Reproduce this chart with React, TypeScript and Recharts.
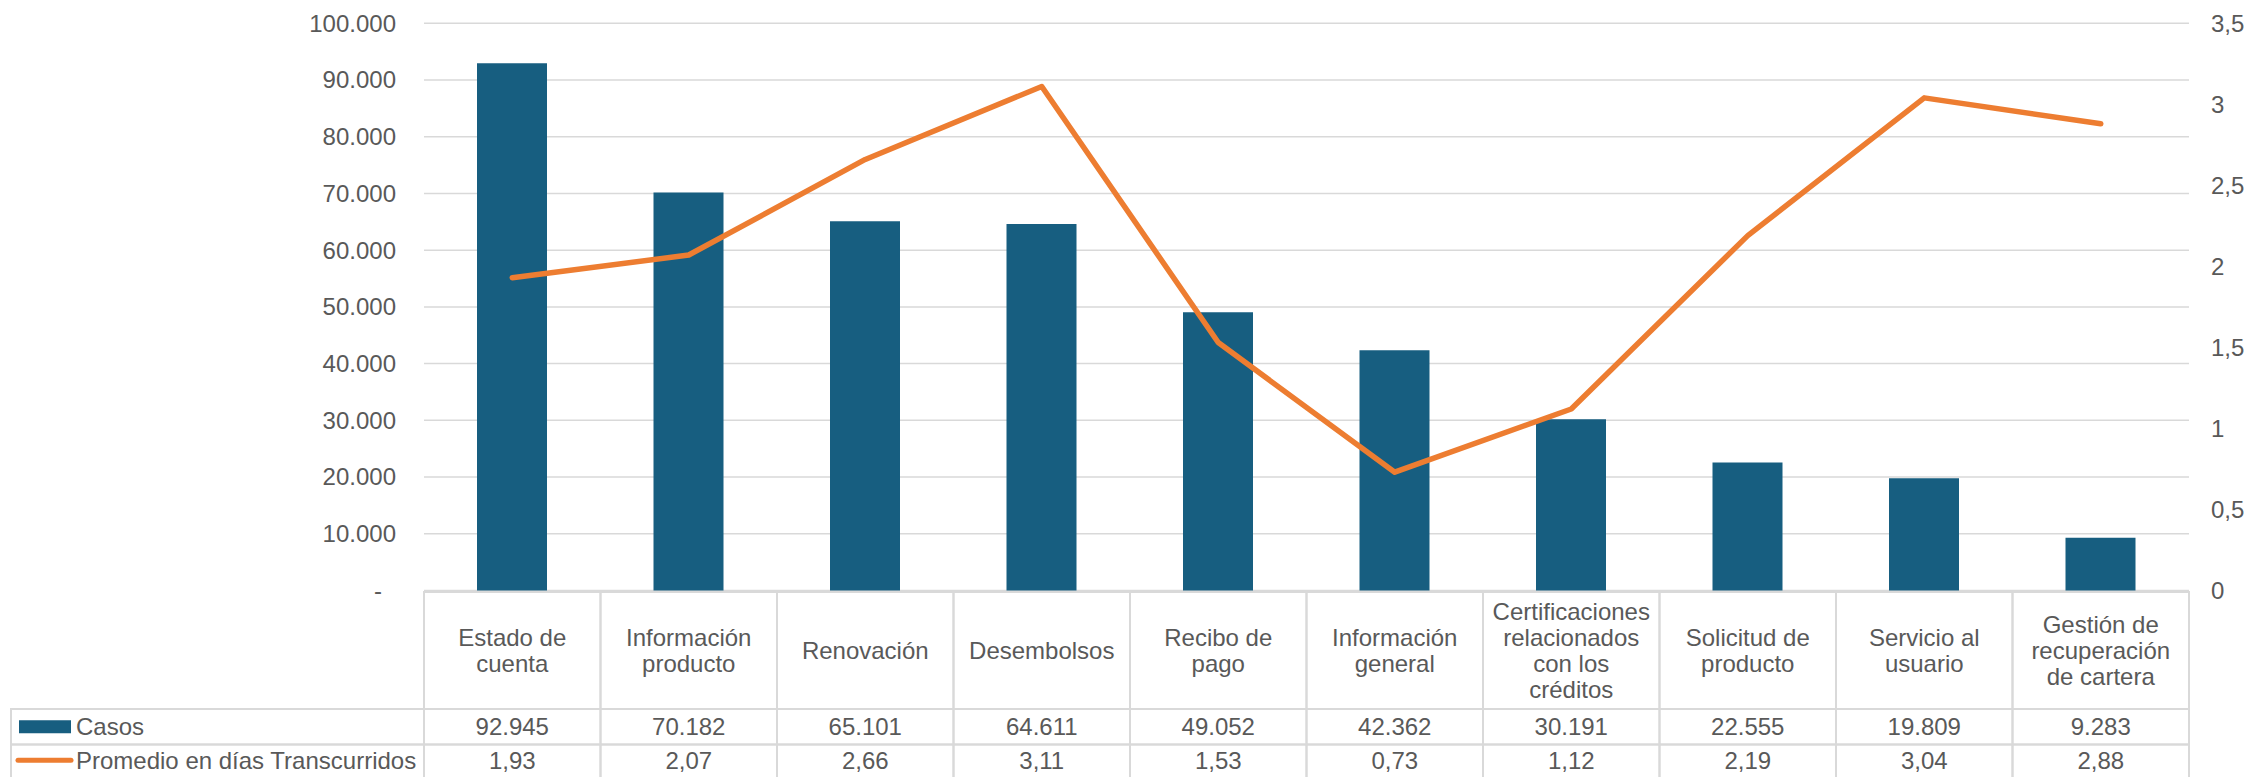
import React from 'react';
import { ComposedChart, Bar, Line, XAxis, YAxis, CartesianGrid } from 'recharts';

// Categorías (saltos de línea = cortes del encabezado de la tabla)
const categories = [
    'Estado de\ncuenta',
    'Información\nproducto',
    'Renovación',
    'Desembolsos',
    'Recibo de\npago',
    'Información\ngeneral',
    'Certificaciones\nrelacionados\ncon los\ncréditos',
    'Solicitud de\nproducto',
    'Servicio al\nusuario',
    'Gestión de\nrecuperación\nde cartera',
];
const casos = [92945, 70182, 65101, 64611, 49052, 42362, 30191, 22555, 19809, 9283];
const promedioDias = [1.93, 2.07, 2.66, 3.11, 1.53, 0.73, 1.12, 2.19, 3.04, 2.88];
const casosTicks = [0, 10000, 20000, 30000, 40000, 50000, 60000, 70000, 80000, 90000, 100000];
const diasTicks = [0, 0.5, 1, 1.5, 2, 2.5, 3, 3.5];

const BAR_COLOR = '#175E80';
const LINE_COLOR = '#ED7D31';
const TEXT_COLOR = '#595959';
const GRID_COLOR = '#D9D9D9';
const FONT = '"Liberation Sans", Arial, sans-serif';

const WIDTH = 2249;
const HEIGHT = 777;
const PLOT_LEFT = 424;
const PLOT_RIGHT = 2189;
const TABLE_H = 186.5;
const CELL_W = (PLOT_RIGHT - PLOT_LEFT) / categories.length;

const data = categories.map((categoria, i) => ({
    categoria,
    casos: casos[i],
    promedio: promedioDias[i],
}));

const miles = (v: number) => String(v).replace(/\B(?=(\d{3})+(?!\d))/g, '.');
const decimal = (v: number, d?: number) =>
    (d === undefined ? String(v) : v.toFixed(d)).replace('.', ',');

const CasosTick = ({ x, y, payload }: any) => (
    <text
        x={payload.value === 0 ? x - 14 : x}
        y={y}
        dy="0.35em"
        textAnchor="end"
        fill={TEXT_COLOR}
        fontSize={24}
        fontFamily={FONT}
    >
        {payload.value === 0 ? '-' : miles(payload.value)}
    </text>
);

// Cada tick del eje X dibuja su columna de la tabla de datos
const TableTick = ({ x, y, payload }: any) => {
    const i = categories.indexOf(payload.value);
    const left = x - CELL_W / 2;
    const top = y + 1.5;
    const headerBottom = y + 118.5;
    const casosBottom = y + 154;
    const bottom = y + 188;
    const lines: string[] = String(payload.value).split('\n');
    const headerMid = (top + headerBottom) / 2;
    const textProps = {
        textAnchor: 'middle' as const,
        dominantBaseline: 'central' as const,
        fill: TEXT_COLOR,
        fontSize: 24,
        fontFamily: FONT,
    };
    return (
        <g>
            <rect x={left} y={top} width={CELL_W} height={headerBottom - top} fill="none" stroke={GRID_COLOR} strokeWidth={2} />
            <rect x={left} y={headerBottom} width={CELL_W} height={casosBottom - headerBottom} fill="none" stroke={GRID_COLOR} strokeWidth={2} />
            <rect x={left} y={casosBottom} width={CELL_W} height={bottom - casosBottom} fill="none" stroke={GRID_COLOR} strokeWidth={2} />
            {lines.map((line, k) => (
                <text key={k} x={x} y={headerMid + (k - (lines.length - 1) / 2) * 26} {...textProps}>
                    {line}
                </text>
            ))}
            <text x={x} y={(headerBottom + casosBottom) / 2} {...textProps}>
                {miles(casos[i])}
            </text>
            <text x={x} y={(casosBottom + y + 185.5) / 2} {...textProps}>
                {decimal(promedioDias[i], 2)}
            </text>
        </g>
    );
};

// Leyenda a la izquierda de las filas de la tabla
const TableLegend = () => {
    const rowTop = HEIGHT - TABLE_H + 118.5;
    const rowMid = HEIGHT - TABLE_H + 154;
    const rowBottom = HEIGHT - TABLE_H + 185.5;
    const labelProps = {
        dominantBaseline: 'central' as const,
        fill: TEXT_COLOR,
        fontSize: 24,
        fontFamily: FONT,
    };
    return (
        <svg width={PLOT_LEFT + 1} height={HEIGHT} style={{ position: 'absolute', left: 0, top: 0, pointerEvents: 'none' }}>
            <rect x={11} y={rowTop} width={PLOT_LEFT - 11} height={rowMid - rowTop} fill="none" stroke={GRID_COLOR} strokeWidth={2} />
            <rect x={11} y={rowMid} width={PLOT_LEFT - 11} height={rowBottom - rowMid + 3} fill="none" stroke={GRID_COLOR} strokeWidth={2} />
            <rect x={19} y={(rowTop + rowMid) / 2 - 6.5} width={52} height={13} fill={BAR_COLOR} />
            <text x={76} y={(rowTop + rowMid) / 2} {...labelProps}>Casos</text>
            <line x1={18} x2={71} y1={(rowMid + rowBottom) / 2} y2={(rowMid + rowBottom) / 2} stroke={LINE_COLOR} strokeWidth={5} strokeLinecap="round" />
            <text x={76} y={(rowMid + rowBottom) / 2} {...labelProps}>Promedio en días Transcurridos</text>
        </svg>
    );
};

export default function App() {
    return (
        <div style={{ position: 'absolute', left: 0, top: 0, width: WIDTH, height: HEIGHT, overflow: 'hidden', background: '#fff' }}>
            <ComposedChart
                width={WIDTH}
                height={HEIGHT}
                data={data}
                margin={{ top: 23.3, right: 0, left: 0, bottom: 0 }}
            >
                <CartesianGrid yAxisId="casos" vertical={false} stroke={GRID_COLOR} strokeWidth={1.5} />
                <XAxis
                    dataKey="categoria"
                    interval={0}
                    axisLine={false}
                    tickLine={false}
                    tickSize={0}
                    tickMargin={0}
                    height={TABLE_H}
                    tick={(p: any) => <TableTick {...p} />}
                />
                <YAxis
                    yAxisId="casos"
                    domain={[0, 100000]}
                    ticks={casosTicks}
                    width={PLOT_LEFT}
                    axisLine={false}
                    tickLine={false}
                    tickSize={0}
                    tickMargin={28}
                    tick={(p: any) => <CasosTick {...p} />}
                />
                <YAxis
                    yAxisId="dias"
                    orientation="right"
                    domain={[0, 3.5]}
                    ticks={diasTicks}
                    width={WIDTH - PLOT_RIGHT}
                    axisLine={false}
                    tickLine={false}
                    tickSize={0}
                    tickMargin={22}
                    tickFormatter={(v: number) => decimal(v)}
                    tick={{ fill: TEXT_COLOR, fontSize: 24, fontFamily: FONT }}
                />
                <Bar yAxisId="casos" dataKey="casos" fill={BAR_COLOR} barSize={70} isAnimationActive={false} />
                <Line
                    yAxisId="dias"
                    type="linear"
                    dataKey="promedio"
                    stroke={LINE_COLOR}
                    strokeWidth={5.5}
                    strokeLinejoin="round"
                    strokeLinecap="round"
                    dot={false}
                    activeDot={false}
                    isAnimationActive={false}
                />
            </ComposedChart>
            <TableLegend />
        </div>
    );
}
